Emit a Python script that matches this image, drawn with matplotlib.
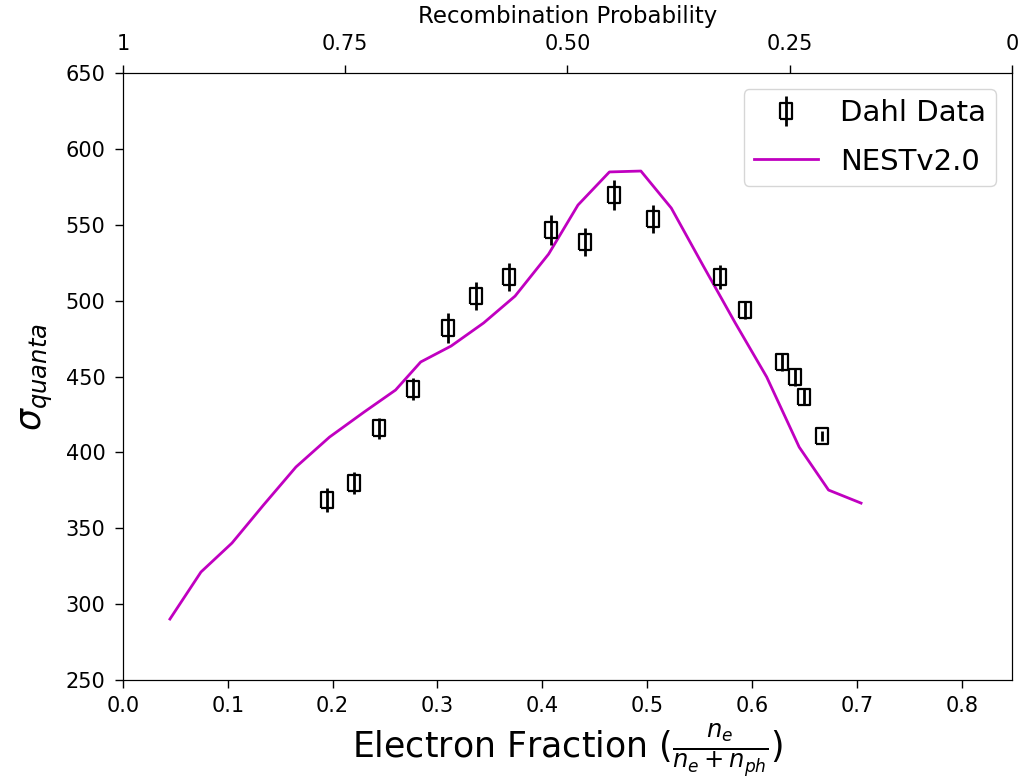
import matplotlib
matplotlib.use("Agg")
import matplotlib.pyplot as plt
import numpy as np

# Dahl data
dahl_x = [0.1945, 0.220, 0.244, 0.277, 0.310, 0.337, 0.368, 0.408, 0.441, 0.468,
          0.506, 0.569, 0.593, 0.629, 0.641, 0.650, 0.667]
dahl_y = [368.6, 379.8, 416.0, 441.8, 482.0, 503.0, 515.6, 546.5, 538.6, 569.6,
          553.8, 515.6, 493.8, 459.6, 449.7, 436.5, 410.8]
dahl_err = [8, 7, 7, 7, 10, 9, 9, 10, 9, 10, 9, 8, 6, 6, 6, 5, 3]

# NESTv2.0 curve
nest_x = [0.0448, 0.0744, 0.104, 0.134, 0.165, 0.197, 0.230, 0.260, 0.284, 0.313,
          0.344, 0.374, 0.406, 0.434, 0.464, 0.494, 0.523, 0.553, 0.584, 0.614,
          0.645, 0.673, 0.704]
nest_y = [290.2, 321.2, 340.3, 365.3, 390.4, 410.1, 426.6, 441.1, 459.6, 470.1,
          485.3, 503.0, 530.7, 563.0, 584.8, 585.4, 561.0, 523.5, 485.3, 449.7,
          403.5, 375.2, 366.6]

x_ticks = [0.0, 0.1, 0.2, 0.3, 0.4, 0.5, 0.6, 0.7, 0.8]
y_ticks = [250, 300, 350, 400, 450, 500, 550, 600, 650]
top_ticks = [1, 0.75, 0.50, 0.25, 0]
top_labels = ["1", "0.75", "0.50", "0.25", "0"]

fig = plt.figure(figsize=(10.29, 7.79), dpi=100)
ax = fig.add_axes([0.1195, 0.127, 0.864, 0.7793])

rect = [(-0.75, -1), (0.75, -1), (0.75, 1), (-0.75, 1), (-0.75, -1)]
h_data = ax.errorbar(dahl_x, dahl_y, yerr=dahl_err, fmt='', marker=rect, linestyle='none',
                     markersize=11.5, mfc='none', mec='black', mew=1.6,
                     ecolor='black', elinewidth=2, capsize=0, zorder=3, label='Dahl Data')
h_line, = ax.plot(nest_x, nest_y, color='#c000c0', linewidth=2, label='NESTv2.0', zorder=2)

ax.legend([h_data, h_line], ['Dahl Data', 'NESTv2.0'], loc='upper right', fontsize=21,
          handlelength=2.2, borderpad=0.35, labelspacing=0.7, handletextpad=0.75,
          borderaxespad=0.55)

ax.set_xlim(0, 0.848)
ax.set_ylim(250, 650)
ax.set_xticks(x_ticks)
ax.set_yticks(y_ticks)
ax.tick_params(labelsize=15, length=5.5, width=1)
ax.tick_params(axis='x', pad=6)
ax.tick_params(axis='y', pad=7)
ax.set_xlabel(r'Electron Fraction ($\frac{n_e}{n_e + n_{ph}}$)', fontsize=25, labelpad=4)
ax.set_ylabel(r'$\sigma_{quanta}$', fontsize=25, labelpad=8)

ax2 = ax.twiny()
ax2.set_xlim(1, 0)
ax2.set_xticks(top_ticks)
ax2.set_xticklabels(top_labels)
ax2.tick_params(labelsize=15, length=5.5, width=1, pad=8)
ax2.set_xlabel('Recombination Probability', fontsize=16.5, labelpad=8)

fig.savefig('out.png', dpi=100)
